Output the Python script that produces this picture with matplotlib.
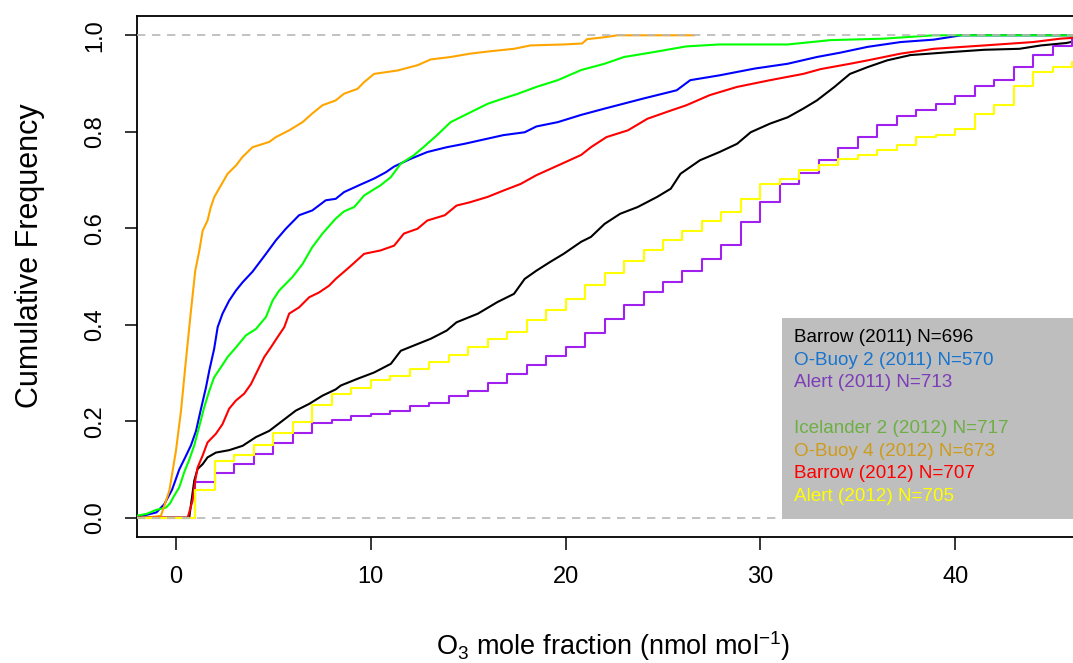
import matplotlib
matplotlib.use("Agg")
import matplotlib.pyplot as plt
from matplotlib.patches import Rectangle

plt.rcParams["font.family"] = ["Liberation Sans", "DejaVu Sans"]
plt.rcParams["mathtext.fontset"] = "custom"
plt.rcParams["mathtext.rm"] = "Liberation Sans"

# Empirical cumulative distributions of O3 mole fraction (nmol/mol)
# Fine-resolution records: (x, cumulative frequency) read along each curve
barrow11_x = [-2.0, 0.68, 0.94, 1.11, 1.37, 1.62, 2.05, 2.73, 3.42, 4.1, 4.79, 5.47, 6.15, 6.84,
              7.52, 8.2, 8.46, 9.32, 10.17, 11.03, 11.54, 12.4, 13.08, 13.9, 14.4, 15.5, 16.5,
              17.35, 17.9, 18.5, 19.2, 19.9, 20.8, 21.3, 22.0, 22.8, 23.7, 24.7, 25.4, 25.9,
              26.9, 27.9, 28.8, 29.5, 30.5, 31.4, 32.2, 32.9, 33.8, 34.3, 34.6, 35.5, 36.5,
              37.7, 39.7, 41.5, 43.3, 44.4, 45.7, 47.0, 48.0]
barrow11_f = [0.0, 0.0, 0.077, 0.101, 0.111, 0.125, 0.135, 0.140, 0.149, 0.167, 0.180, 0.201,
              0.222, 0.236, 0.253, 0.266, 0.274, 0.288, 0.301, 0.319, 0.346, 0.360, 0.371,
              0.388, 0.405, 0.423, 0.447, 0.464, 0.495, 0.512, 0.530, 0.547, 0.572, 0.582,
              0.609, 0.630, 0.644, 0.665, 0.682, 0.713, 0.741, 0.758, 0.775, 0.799, 0.817,
              0.830, 0.848, 0.865, 0.893, 0.910, 0.920, 0.934, 0.948, 0.959, 0.965, 0.970,
              0.972, 0.979, 0.984, 0.995, 1.0]

obuoy2_x = [-2.0, -1.5, -1.0, -0.6, -0.2, 0.17, 0.51, 0.77, 1.03, 1.28, 1.54, 1.71, 1.96, 2.14,
            2.39, 2.73, 3.08, 3.42, 3.93, 4.62, 5.13, 5.64, 6.32, 7.0, 7.69, 8.2, 8.63, 9.5,
            10.17, 10.77, 11.2, 12.05, 12.9, 13.9, 14.8, 15.8, 16.8, 17.9, 18.5, 19.6, 20.8,
            22.0, 24.0, 25.7, 26.4, 27.9, 29.7, 31.4, 32.9, 34.1, 35.5, 37.2, 38.9, 40.3, 48.0]
obuoy2_f = [0.003, 0.006, 0.011, 0.028, 0.058, 0.100, 0.128, 0.150, 0.180, 0.225, 0.270, 0.305,
            0.350, 0.395, 0.423, 0.450, 0.471, 0.488, 0.510, 0.547, 0.575, 0.599, 0.627, 0.637,
            0.658, 0.661, 0.675, 0.691, 0.703, 0.716, 0.728, 0.744, 0.758, 0.768, 0.775, 0.784,
            0.793, 0.799, 0.811, 0.820, 0.835, 0.848, 0.869, 0.886, 0.907, 0.917, 0.931, 0.941,
            0.955, 0.964, 0.976, 0.986, 0.991, 1.0, 1.0]

iceland2_x = [-2.0, -1.5, -1.03, -0.51, -0.3, -0.1, 0.17, 0.43, 0.68, 0.94, 1.2, 1.45, 1.71,
              1.96, 2.31, 2.65, 3.08, 3.59, 4.1, 4.62, 4.96, 5.3, 5.98, 6.5, 7.0, 7.52, 8.2,
              8.63, 9.15, 9.66, 10.5, 11.03, 11.54, 12.2, 12.7, 13.4, 14.1, 14.8, 15.5, 16.0,
              16.8, 17.5, 18.5, 19.6, 20.8, 22.0, 23.0, 24.5, 26.2, 27.9, 31.4, 33.6, 36.3,
              38.9, 48.0]
iceland2_f = [0.004, 0.008, 0.016, 0.021, 0.030, 0.045, 0.063, 0.095, 0.120, 0.150, 0.190,
              0.229, 0.263, 0.291, 0.312, 0.333, 0.353, 0.378, 0.391, 0.416, 0.450, 0.471,
              0.499, 0.526, 0.561, 0.589, 0.620, 0.635, 0.644, 0.668, 0.689, 0.706, 0.734,
              0.751, 0.768, 0.793, 0.820, 0.834, 0.848, 0.858, 0.869, 0.878, 0.893, 0.907,
              0.928, 0.941, 0.955, 0.965, 0.977, 0.981, 0.981, 0.990, 0.993, 1.0, 1.0]

obuoy4_x = [-2.0, -1.5, -0.77, -0.34, 0.0, 0.26, 0.51, 0.77, 0.99, 1.2, 1.37, 1.62, 1.79, 1.97,
            2.31, 2.65, 3.08, 3.42, 3.93, 4.79, 5.13, 5.81, 6.5, 7.0, 7.52, 8.2, 8.63, 9.32,
            9.66, 10.17, 11.37, 12.4, 13.08, 14.1, 15.1, 16.15, 17.35, 18.2, 19.9, 20.85, 21.1,
            22.0, 22.65, 26.6]
obuoy4_f = [0.0, 0.0, 0.004, 0.056, 0.139, 0.222, 0.326, 0.429, 0.512, 0.554, 0.595, 0.616,
            0.644, 0.665, 0.689, 0.713, 0.730, 0.748, 0.768, 0.779, 0.789, 0.803, 0.820, 0.838,
            0.855, 0.865, 0.879, 0.889, 0.903, 0.920, 0.927, 0.938, 0.950, 0.955, 0.962, 0.967,
            0.972, 0.979, 0.981, 0.983, 0.992, 0.996, 1.0, 1.0]

barrow12_x = [-2.0, 0.6, 0.85, 0.99, 1.11, 1.37, 1.62, 2.05, 2.39, 2.73, 3.08, 3.5, 3.85, 4.19,
              4.53, 4.87, 5.21, 5.56, 5.81, 6.32, 6.84, 7.35, 7.86, 8.2, 8.89, 9.66, 10.5, 11.2,
              11.7, 12.4, 12.9, 13.8, 14.4, 15.1, 16.0, 16.8, 17.7, 18.5, 19.6, 20.8, 21.3,
              22.1, 23.2, 24.2, 25.4, 26.2, 27.4, 28.8, 30.5, 32.2, 33.1, 34.6, 35.5, 37.2,
              38.9, 41.5, 44.0, 45.4, 46.5, 48.0]
barrow12_f = [0.0, 0.0, 0.035, 0.077, 0.104, 0.129, 0.156, 0.174, 0.194, 0.226, 0.243, 0.257,
              0.277, 0.305, 0.333, 0.353, 0.374, 0.395, 0.423, 0.436, 0.457, 0.467, 0.481,
              0.495, 0.519, 0.547, 0.554, 0.564, 0.589, 0.599, 0.616, 0.627, 0.647, 0.654,
              0.665, 0.678, 0.692, 0.710, 0.730, 0.752, 0.768, 0.789, 0.803, 0.827, 0.844,
              0.855, 0.876, 0.893, 0.907, 0.920, 0.930, 0.941, 0.948, 0.962, 0.972, 0.979,
              0.986, 0.993, 0.996, 1.0]

# Integer-resolution records: cumulative frequency reached at each whole nmol/mol
alert_steps = list(range(1, 47))
alert11_f = [0.073, 0.093, 0.111, 0.133, 0.154, 0.176, 0.196, 0.202, 0.210, 0.216,
             0.222, 0.232, 0.237, 0.253, 0.262, 0.279, 0.298, 0.317, 0.335, 0.353,
             0.382, 0.411, 0.440, 0.467, 0.488, 0.512, 0.537, 0.566, 0.613, 0.654,
             0.691, 0.715, 0.741, 0.767, 0.790, 0.815, 0.833, 0.846, 0.857, 0.875,
             0.894, 0.907, 0.934, 0.960, 0.978, 0.993]
alert12_f = [0.058, 0.117, 0.131, 0.151, 0.176, 0.198, 0.234, 0.257, 0.268, 0.286,
             0.293, 0.308, 0.322, 0.338, 0.353, 0.370, 0.384, 0.409, 0.431, 0.454,
             0.483, 0.507, 0.533, 0.555, 0.575, 0.594, 0.615, 0.633, 0.661, 0.691,
             0.702, 0.720, 0.732, 0.743, 0.752, 0.763, 0.772, 0.789, 0.794, 0.806,
             0.836, 0.855, 0.894, 0.924, 0.934, 0.945]

legend_labels = ["Barrow (2011) N=696", "O-Buoy 2 (2011) N=570", "Alert (2011) N=713", "",
                 "Icelander 2 (2012) N=717", "O-Buoy 4 (2012) N=673", "Barrow (2012) N=707",
                 "Alert (2012) N=705"]
legend_colors = ["#000000", "#1874CD", "#7D3CB8", "#000000",
                 "#6DAF45", "#CD9B1D", "#FF0000", "#FFFF00"]

x_ticks = [0, 10, 20, 30, 40]
y_ticks = [0.0, 0.2, 0.4, 0.6, 0.8, 1.0]

W, H = 1073, 663
fig = plt.figure(figsize=(W / 100, H / 100), dpi=100)
# plot region runs past the right edge of the canvas
ax = fig.add_axes([137 / W, (H - 537) / H, (1189 - 137) / W, 521 / H])
ax.set_xlim(-2, 52)
ax.set_ylim(-0.04, 1.04)

lw = 1.5
ax.plot(barrow11_x, barrow11_f, color="black", lw=lw, zorder=3)
ax.plot(obuoy2_x, obuoy2_f, color="#0000FF", lw=lw, zorder=3)
ax.step([-2.0] + alert_steps + [48.0], [0.0] + alert11_f + [alert11_f[-1]],
        where="post", color="#A020F0", lw=lw, zorder=3)
ax.plot(iceland2_x, iceland2_f, color="#00FF00", lw=lw, zorder=3)
ax.plot(obuoy4_x, obuoy4_f, color="#FFA500", lw=lw, zorder=3)
ax.plot(barrow12_x, barrow12_f, color="#FF0000", lw=lw, zorder=3)
ax.step([-2.0] + alert_steps + [48.0], [0.0] + alert12_f + [alert12_f[-1]],
        where="post", color="#FFFF00", lw=lw, zorder=3)

for yv in (0.0, 1.0):
    ax.axhline(yv, color="#B8B8B8", lw=1.2, dashes=(5, 4), zorder=4)

# legend panel
ax.add_patch(Rectangle((31.1, -0.002), 25, 0.415, facecolor="#BEBEBE", edgecolor="none",
                       zorder=5))
y0 = (517 - 337) / 482
dy = 22.7 / 482
for i, (lab, col) in enumerate(zip(legend_labels, legend_colors)):
    ax.text(31.7, y0 - i * dy, lab, color=col, fontsize=13.6, va="center", ha="left",
            zorder=6)

ax.set_xticks(x_ticks)
ax.set_xticklabels([str(t) for t in x_ticks])
ax.set_yticks(y_ticks)
ax.set_yticklabels([f"{t:.1f}" for t in y_ticks], rotation=90, va="center")
ax.tick_params(axis="both", direction="out", length=9, width=1.1, labelsize=17)
ax.tick_params(axis="x", pad=12)
ax.tick_params(axis="y", pad=13)
for s in ax.spines.values():
    s.set_linewidth(1.3)

fig.text(613 / W, 1 - 655 / H, "O$_3$ mole fraction (nmol mol$^{-1}$)", fontsize=19.5,
         ha="center", va="baseline")
fig.text(30 / W, 1 - 256 / H, "Cumulative Frequency", fontsize=22, rotation=90,
         ha="center", va="center")

fig.savefig("out.png", dpi=100)
